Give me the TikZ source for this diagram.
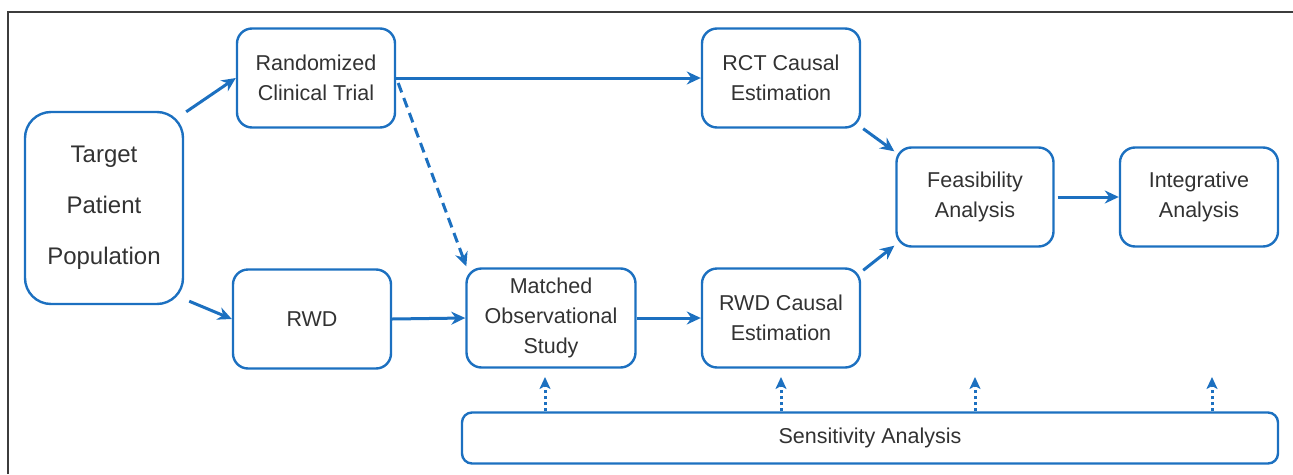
\documentclass[tikz,border=0pt]{standalone}
\usepackage{fontspec}
\setmainfont{Liberation Sans}
\usetikzlibrary{arrows.meta}
\definecolor{bl}{RGB}{28,112,192}
\definecolor{tx}{RGB}{50,50,50}
\definecolor{fr}{RGB}{60,60,60}
\begin{document}
\begin{tikzpicture}[x=1pt,y=-1pt,
  box/.style={draw=bl, line width=2.4pt, rounded corners=15pt, text=tx, align=center,
    inner sep=0pt, minimum width=158pt, minimum height=99pt,
    font=\fontsize{21.5}{30}\selectfont},
  arr/.style={draw=bl, line width=3pt, -{Stealth[length=14pt,width=13pt,inset=4.5pt]}},
  dasharr/.style={arr, dash pattern=on 10pt off 6pt},
  dotarr/.style={draw=bl, line width=3pt, dash pattern=on 3pt off 3pt,
    -{Stealth[length=12pt,width=11pt,inset=3pt]}}]
\useasboundingbox (0,0) rectangle (1293,474);
\draw[fr, line width=2pt] (8,474) -- (8,12) -- (1293,12);

\node[box, minimum height=192pt, rounded corners=26pt,
  font=\fontsize{24}{51}\selectfont] (tgt) at (104,208) {Target\\Patient\\Population};
\node[box] (rct) at (316,78) {Randomized\\Clinical Trial};
\node[box] (rwd) at (312,319) {RWD};
\node[box, minimum width=169pt] (mos) at (551,318) {Matched\\Observational\\Study};
\node[box] (rctce) at (781,78) {RCT Causal\\Estimation};
\node[box] (rwdce) at (781,318) {RWD Causal\\Estimation};
\node[box, minimum width=157pt] (feas) at (975,197) {Feasibility\\Analysis};
\node[box] (integ) at (1199,197) {Integrative\\Analysis};
\node[box, minimum width=816pt, minimum height=51pt, rounded corners=10pt] (sens) at (870,438) {Sensitivity Analysis};

\draw[arr] ([shift={(2,1)}]tgt.north east) -- (rct.west);
\draw[arr] ([shift={(5,-4)}]tgt.south east) -- (rwd.west);
\draw[arr] (rct.east) -- (rctce.west);
\draw[dasharr] ([shift={(2,5)}]rct.east) -- ([shift={(1,-1)}]mos.north west);
\draw[arr] (rwd.east) -- (mos.west);
\draw[arr] (mos.east) -- (rwdce.west);
\draw[arr] ([shift={(2,0)}]rctce.south east) -- ([shift={(-1,5)}]feas.north west);
\draw[arr] ([shift={(2,3)}]rwdce.north east) -- ([shift={(-1,-2)}]feas.south west);
\draw[arr] ([shift={(3,0)}]feas.east) -- (integ.west);

\coordinate (t1) at (545,377);
\coordinate (t2) at (781,377);
\coordinate (t3) at (975,377);
\coordinate (t4) at (1212,377);
\foreach \t in {t1,t2,t3,t4}
  \draw[dotarr] (\t |- sens.north) -- (\t);
\end{tikzpicture}
\end{document}
